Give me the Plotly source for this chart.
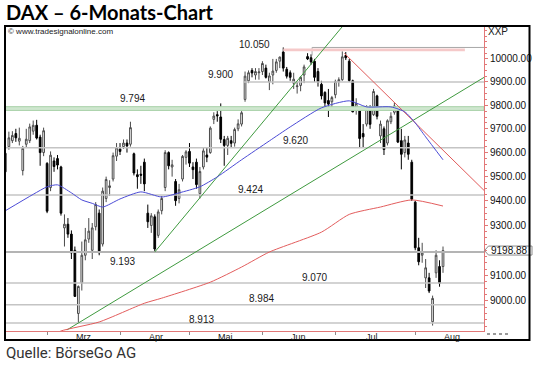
import math
import plotly.graph_objects as go

# ---------------- data ----------------
dates = [
    "2014-02-13", "2014-02-14", "2014-02-17", "2014-02-18", "2014-02-19", "2014-02-20", "2014-02-21",
    "2014-02-24", "2014-02-25", "2014-02-26", "2014-02-27", "2014-02-28",
    "2014-03-03", "2014-03-04", "2014-03-05", "2014-03-06", "2014-03-07", "2014-03-10", "2014-03-11",
    "2014-03-12", "2014-03-13", "2014-03-14", "2014-03-17", "2014-03-18", "2014-03-19", "2014-03-20",
    "2014-03-21", "2014-03-24", "2014-03-25", "2014-03-26", "2014-03-27", "2014-03-28", "2014-03-31",
    "2014-04-01", "2014-04-02", "2014-04-03", "2014-04-04", "2014-04-07", "2014-04-08", "2014-04-09",
    "2014-04-10", "2014-04-11", "2014-04-14", "2014-04-15", "2014-04-16", "2014-04-17", "2014-04-22",
    "2014-04-23", "2014-04-24", "2014-04-25", "2014-04-28", "2014-04-29", "2014-04-30",
    "2014-05-02", "2014-05-05", "2014-05-06", "2014-05-07", "2014-05-08", "2014-05-09", "2014-05-12",
    "2014-05-13", "2014-05-14", "2014-05-15", "2014-05-16", "2014-05-19", "2014-05-20", "2014-05-21",
    "2014-05-22", "2014-05-23", "2014-05-26", "2014-05-27", "2014-05-28", "2014-05-29", "2014-05-30",
    "2014-06-02", "2014-06-03", "2014-06-04", "2014-06-05", "2014-06-06", "2014-06-09", "2014-06-10",
    "2014-06-11", "2014-06-12", "2014-06-13", "2014-06-16", "2014-06-17", "2014-06-18", "2014-06-19",
    "2014-06-20", "2014-06-23", "2014-06-24", "2014-06-25", "2014-06-26", "2014-06-27", "2014-06-30",
    "2014-07-01", "2014-07-02", "2014-07-03", "2014-07-04", "2014-07-07", "2014-07-08", "2014-07-09",
    "2014-07-10", "2014-07-11", "2014-07-14", "2014-07-15", "2014-07-16", "2014-07-17", "2014-07-18",
    "2014-07-21", "2014-07-22", "2014-07-23", "2014-07-24", "2014-07-25", "2014-07-28", "2014-07-29",
    "2014-07-30", "2014-07-31",
    "2014-08-01", "2014-08-04", "2014-08-05", "2014-08-06", "2014-08-07", "2014-08-08", "2014-08-11",
    "2014-08-12", "2014-08-13",
]
opens = [
    9520, 9625, 9650, 9680, 9648, 9525, 9635, 9650, 9690, 9715, 9665, 9600,
    9555, 9455, 9565, 9575, 9540, 9290, 9305, 9265, 9200, 8950, 9070, 9180, 9245, 9200,
    9295, 9350, 9225, 9410, 9455, 9490, 9585,
    9615, 9625, 9640, 9635, 9595, 9508, 9510, 9560, 9350, 9300, 9335, 9260, 9360, 9455,
    9600, 9540, 9480, 9410, 9490, 9580,
    9605, 9540, 9560, 9430, 9540, 9590, 9600, 9740, 9760, 9750, 9655, 9630, 9650, 9640,
    9700, 9720, 9825, 9905, 9950, 9930, 9940,
    9945, 9960, 9900, 9930, 9950, 9990, 10030, 9955, 9940, 9895, 9880, 9885, 9930, 10010,
    10005, 9990, 9945, 9890, 9855, 9820, 9815,
    9845, 9900, 9910, 10015, 9990, 9905, 9785, 9780, 9680, 9720, 9790, 9760, 9840, 9670,
    9700, 9640, 9730, 9770, 9780, 9650, 9600, 9640, 9560,
    9395, 9210, 9180, 9090, 9090, 8918, 9110, 9135, 9135,
]
highs = [
    9605, 9688, 9690, 9700, 9705, 9628, 9700, 9722, 9735, 9738, 9675, 9705,
    9560, 9605, 9580, 9590, 9545, 9345, 9330, 9280, 9215, 9060, 9235, 9290, 9330, 9310,
    9395, 9365, 9455, 9500, 9485, 9600, 9640,
    9640, 9655, 9655, 9730, 9600, 9530, 9545, 9575, 9385, 9350, 9345, 9365, 9420, 9610,
    9605, 9570, 9490, 9470, 9590, 9610,
    9640, 9560, 9575, 9540, 9620, 9620, 9710, 9770, 9775, 9808, 9670, 9670, 9670, 9705,
    9740, 9775, 9945, 9950, 9960, 9960, 9960,
    9990, 9975, 9940, 10000, 10000, 10010, 10050, 9965, 9950, 9940, 9900, 9925, 9975, 10025,
    10020, 10000, 9960, 9905, 9860, 9870, 9840,
    9910, 9920, 10033, 10030, 10000, 9910, 9830, 9790, 9720, 9800, 9800, 9870, 9845, 9735,
    9710, 9740, 9770, 9812, 9790, 9700, 9670, 9670, 9570,
    9400, 9250, 9230, 9165, 9110, 9020, 9200, 9160, 9215,
]
lows = [
    9495, 9612, 9640, 9645, 9630, 9505, 9620, 9640, 9675, 9655, 9545, 9585,
    9350, 9440, 9520, 9530, 9340, 9215, 9250, 9165, 9015, 8913, 9040, 9160, 9230, 9165,
    9280, 9180, 9215, 9395, 9420, 9480, 9565,
    9590, 9615, 9600, 9625, 9505, 9450, 9470, 9440, 9290, 9270, 9193, 9250, 9345, 9440,
    9530, 9500, 9380, 9390, 9480, 9550,
    9540, 9490, 9450, 9410, 9530, 9560, 9595, 9720, 9730, 9640, 9545, 9590, 9620, 9625,
    9690, 9710, 9815, 9895, 9920, 9910, 9910,
    9930, 9915, 9865, 9890, 9940, 9960, 9945, 9915, 9905, 9870, 9850, 9860, 9895, 9995,
    9975, 9900, 9880, 9825, 9790, 9750, 9790,
    9830, 9880, 9905, 9995, 9900, 9770, 9760, 9620, 9620, 9710, 9700, 9755, 9740, 9640,
    9590, 9630, 9720, 9760, 9640, 9530, 9580, 9570, 9400,
    9200, 9140, 9150, 9050, 9030, 8903, 9090, 9055, 9110,
]
closes = [
    9597, 9662, 9672, 9662, 9660, 9618, 9656, 9708, 9715, 9661, 9600, 9692,
    9358, 9589, 9542, 9548, 9350, 9305, 9265, 9189, 9017, 9056, 9180, 9242, 9277, 9290,
    9385, 9190, 9440, 9488, 9462, 9587, 9620,
    9605, 9640, 9628, 9705, 9515, 9500, 9506, 9470, 9315, 9339, 9205, 9355, 9410, 9600,
    9545, 9549, 9401, 9446, 9584, 9603,
    9556, 9529, 9467, 9521, 9607, 9581, 9703, 9754, 9755, 9656, 9630, 9660, 9639, 9697,
    9721, 9768, 9925, 9940, 9939, 9945, 9943,
    9980, 9920, 9926, 9947, 9987, 10008, 9960, 9925, 9920, 9912, 9883, 9920, 9965, 10000,
    9987, 9920, 9900, 9840, 9810, 9805, 9833,
    9902, 9910, 10009, 10005, 9906, 9772, 9808, 9659, 9666, 9783, 9719, 9859, 9753, 9720,
    9613, 9734, 9753, 9797, 9644, 9593, 9653, 9593, 9407,
    9210, 9154, 9189, 9130, 9038, 9009, 9180, 9069, 9198.88,
]

month_keys = ["2014-03", "2014-04", "2014-05", "2014-06", "2014-07", "2014-08"]
month_labels = ["Mrz", "Apr", "Mai", "Jun", "Jul", "Aug"]

blue_ma_dates = ["2014-02-13", "2014-02-25", "2014-03-03", "2014-03-06", "2014-03-12", "2014-03-17",
                 "2014-03-20", "2014-03-25", "2014-04-01", "2014-04-09", "2014-04-17", "2014-04-28",
                 "2014-05-07", "2014-05-14", "2014-05-23", "2014-06-04", "2014-06-12", "2014-06-25",
                 "2014-07-07", "2014-07-14", "2014-07-23", "2014-07-29", "2014-08-01", "2014-08-06",
                 "2014-08-13"]
blue_ma_values = [9360, 9427, 9458, 9466, 9433, 9404, 9390, 9375, 9408, 9437, 9416, 9433,
                  9458, 9499, 9570, 9649, 9708, 9789, 9819, 9793, 9793, 9772, 9725, 9666, 9570]

red_ma_dates = ["2014-03-04", "2014-03-07", "2014-03-24", "2014-04-10", "2014-04-17", "2014-05-12",
                "2014-05-23", "2014-06-04", "2014-06-25", "2014-07-07", "2014-07-18", "2014-07-31",
                "2014-08-13"]
red_ma_values = [8860, 8882, 8917, 8990, 9010, 9073, 9133, 9193, 9273, 9345, 9375, 9404, 9379]

level_values = [10050, 9900, 9620, 9424, 9193, 9070, 8984, 8913]
level_labels = ["10.050", "9.900", "9.620", "9.424", "9.193", "9.070", "8.984", "8.913"]
zone_low, zone_high = 9778, 9794
zone_label = "9.794"
top_band_low, top_band_high = 10033, 10045

# trend lines: two anchor points each (date, price)
green_steep = [("2014-04-15", 9193), ("2014-07-04", 10160)]
green_flat = [("2014-03-14", 8913), ("2014-07-24", 9688)]
red_down = [("2014-07-03", 10033), ("2014-07-24", 9812)]

price_ticks = [9000, 9100, 9300, 9400, 9500, 9600, 9700, 9800, 9900, 10000]
last_price = 9198.88

# ---------------- geometry / style ----------------
W, H = 540, 365
ML, MR, MT, MB = 5, 56, 27, 34
PW, PH = W - ML - MR, H - MT - MB
STEP = 3.473
X0 = -0.12
X1 = X0 + PW / STEP
Y_LO, Y_HI = math.log10(8882), math.log10(10140)

AXIS_RED = "#e27878"
LEVEL_GREY = "#c4c4c4"
FONT = "Liberation Sans, Arial, sans-serif"

pos = {d: i for i, d in enumerate(dates)}
xs = list(range(len(dates)))


def paper_x(px):
    return (px - ML) / PW


def paper_y(py):
    return (H - MB - py) / PH


def pix_y(v):
    return MT + (Y_HI - math.log10(v)) / (Y_HI - Y_LO) * PH


def line_through(anchors, xa, xb):
    (d1, v1), (d2, v2) = anchors
    i1, i2 = pos[d1], pos[d2]
    l1, l2 = math.log10(v1), math.log10(v2)
    s = (l2 - l1) / (i2 - i1)
    return [xa, xb], [10 ** (l1 + s * (xa - i1)), 10 ** (l1 + s * (xb - i1))]


fig = go.Figure()

# horizontal levels
level_start = [88.3, 68.5, X0, X0, X0, X0, X0, X0]
level_color = ["#a8a8a8", LEVEL_GREY, LEVEL_GREY, LEVEL_GREY, "#b4b4b4", LEVEL_GREY, LEVEL_GREY, LEVEL_GREY]
level_width = [1, 1.5, 1.5, 1.5, 2, 1.5, 1.5, 1.5]
for v, xs0, c, w in zip(level_values, level_start, level_color, level_width):
    fig.add_trace(go.Scatter(x=[xs0, X1], y=[v, v], mode="lines",
                             line=dict(color=c, width=w), hoverinfo="skip", showlegend=False))
# bracket tick at start of 10050 line
fig.add_trace(go.Scatter(x=[88.3, 88.3], y=[10050, 10015], mode="lines",
                         line=dict(color="#a8a8a8", width=1), hoverinfo="skip", showlegend=False))

# top pink band
fig.add_trace(go.Scatter(x=[80, 132.3, 132.3, 80, 80],
                         y=[top_band_low, top_band_low, top_band_high, top_band_high, top_band_low],
                         mode="lines", fill="toself", fillcolor="#f5c9c9", line=dict(width=0),
                         hoverinfo="skip", showlegend=False))

# green resistance zone
fig.add_trace(go.Scatter(x=[X0, X1, X1, X0, X0],
                         y=[zone_low, zone_low, zone_high, zone_high, zone_low],
                         mode="lines", fill="toself", fillcolor="#cfe7cf",
                         line=dict(color="#a9d2a9", width=1), hoverinfo="skip", showlegend=False))

# trend lines
gx, gy = line_through(green_steep, pos["2014-04-15"], 100)
fig.add_trace(go.Scatter(x=gx, y=gy, mode="lines", line=dict(color="#3f9a3f", width=1),
                         hoverinfo="skip", showlegend=False))
gx, gy = line_through(green_flat, 17.7, X1)
fig.add_trace(go.Scatter(x=gx, y=gy, mode="lines", line=dict(color="#3f9a3f", width=1),
                         hoverinfo="skip", showlegend=False))
rx, ry = line_through(red_down, 97.6, X1)
fig.add_trace(go.Scatter(x=rx, y=ry, mode="lines", line=dict(color="#e05a5a", width=1),
                         hoverinfo="skip", showlegend=False))

# moving averages
fig.add_trace(go.Scatter(x=[pos[d] for d in red_ma_dates], y=red_ma_values, mode="lines",
                         line=dict(color="#e35d5d", width=1, shape="spline", smoothing=0.6),
                         hoverinfo="skip", showlegend=False))
fig.add_trace(go.Scatter(x=[pos[d] for d in blue_ma_dates], y=blue_ma_values, mode="lines",
                         line=dict(color="#4b4bd6", width=1, shape="spline", smoothing=0.6),
                         hoverinfo="skip", showlegend=False))

# candles
fig.add_trace(go.Candlestick(
    x=xs, open=opens, high=highs, low=lows, close=closes,
    increasing=dict(line=dict(color="#4a4a4a", width=1), fillcolor="#ffffff"),
    decreasing=dict(line=dict(color="#000000", width=1), fillcolor="#000000"),
    whiskerwidth=0, hoverinfo="skip", showlegend=False))

# ---------------- annotations ----------------
ann = []
label_x = [71.6, 61.8, 83.4, 70.7, 33.6, 88.9, 73.6, 56.6]
label_dy = [3, 7, 7.5, 5.5, -9.5, 5, 6.5, 3.5]
for v, t, lx, dy in zip(level_values, level_labels, label_x, label_dy):
    ann.append(dict(x=lx, y=math.log10(v), xref="x", yref="y", text=t, showarrow=False,
                    xanchor="center", yanchor="middle", yshift=dy,
                    font=dict(family=FONT, size=10, color="#1a1a1a")))
ann.append(dict(x=36.7, y=math.log10(zone_high), xref="x", yref="y", text=zone_label, showarrow=False,
                xanchor="center", yanchor="middle", yshift=7.7,
                font=dict(family=FONT, size=10, color="#1a1a1a")))

# month labels
month_first = [next(i for i, d in enumerate(dates) if d.startswith(k)) for k in month_keys]
for i, lab in zip(month_first, month_labels):
    ann.append(dict(x=i + 10.5, y=0, xref="x", yref="paper", text=lab, showarrow=False,
                    xanchor="center", yanchor="middle", yshift=-5.5,
                    font=dict(family=FONT, size=9, color="#1a1a1a")))

ann.append(dict(x=paper_x(4), y=paper_y(12.5), xref="paper", yref="paper",
                text="<b>DAX – 6-Monats-Chart</b>", showarrow=False, xanchor="left", yanchor="middle",
                font=dict(family="Lato, Open Sans, sans-serif", size=20, color="#000000")))
ann.append(dict(x=paper_x(4), y=paper_y(352.5), xref="paper", yref="paper",
                text="Quelle: BörseGo AG", showarrow=False, xanchor="left", yanchor="middle",
                font=dict(family="Liberation Sans Narrow, Roboto, sans-serif", size=15, color="#333333")))
ann.append(dict(x=paper_x(6), y=paper_y(31), xref="paper", yref="paper",
                text="© www.tradesignalonline.com", showarrow=False, xanchor="left", yanchor="middle",
                font=dict(family=FONT, size=8, color="#222222")))
ann.append(dict(x=paper_x(486), y=paper_y(31), xref="paper", yref="paper",
                text="XXP", showarrow=False, xanchor="left", yanchor="middle",
                font=dict(family=FONT, size=10, color="#222222")))
lp_y = pix_y(last_price)
ann.append(dict(x=paper_x(489.5), y=paper_y(lp_y), xref="paper", yref="paper",
                text=f"{last_price:.2f}", showarrow=False, xanchor="left", yanchor="middle",
                font=dict(family=FONT, size=10, color="#111111")))


def ppath(points):
    s = ""
    for k, (px, py) in enumerate(points):
        s += ("M" if k == 0 else "L") + f"{paper_x(px):.5f},{paper_y(py):.5f} "
    return s + "Z"


shapes = [
    dict(type="path", xref="paper", yref="paper",
         path=ppath([(484.5, lp_y), (488.5, lp_y - 4.5), (532, lp_y - 4.5), (532, lp_y + 4.5),
                     (488.5, lp_y + 4.5)]),
         line=dict(color="#8a8a8a", width=1), fillcolor="rgba(255,255,255,0)", layer="above"),
    dict(type="line", xref="paper", yref="paper", x0=paper_x(487), x1=paper_x(508),
         y0=paper_y(334), y1=paper_y(334), line=dict(color="#9a9a9a", width=2, dash="dot")),
    dict(type="rect", xref="paper", yref="paper", x0=paper_x(5), x1=paper_x(529.5),
         y0=paper_y(340), y1=paper_y(26), line=dict(color="#000000", width=2), layer="above"),
]

minor_vals = [v for v in range(8900, 10126, 25) if v not in price_ticks]

fig.update_layout(
    width=W, height=H, margin=dict(l=ML, r=MR, t=MT, b=MB),
    paper_bgcolor="white", plot_bgcolor="white",
    annotations=ann, shapes=shapes, showlegend=False,
    xaxis=dict(range=[X0, X1], showgrid=False, zeroline=False, showline=True,
               linecolor=AXIS_RED, linewidth=1, tickmode="array", tickvals=month_first,
               ticks="outside", ticklen=3, tickcolor="#8a8a8a", showticklabels=False,
               rangeslider=dict(visible=False), fixedrange=True),
    yaxis=dict(type="log", range=[Y_LO, Y_HI], side="right", showgrid=False, zeroline=False,
               showline=True, linecolor=AXIS_RED, linewidth=1, tickmode="array",
               tickvals=price_ticks, ticktext=[f"{v:.2f}" for v in price_ticks],
               ticks="outside", ticklen=3, tickcolor=AXIS_RED,
               tickfont=dict(family=FONT, size=10, color="#111111"),
               minor=dict(tickvals=minor_vals, ticks="outside", ticklen=2, tickcolor=AXIS_RED),
               fixedrange=True),
)

fig.write_html("out.html", config={"displayModeBar": False},
               post_script="document.body.style.margin='0px';document.body.style.padding='0px';")
